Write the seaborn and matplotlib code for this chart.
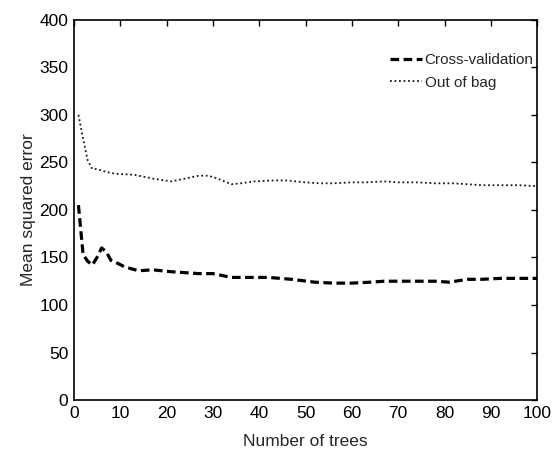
import matplotlib
matplotlib.use("Agg")
import matplotlib.pyplot as plt
import seaborn as sns
import pandas as pd

# Data
cv_trees = [1, 2, 3, 4, 5, 6, 7, 8, 9, 11, 14, 17, 21, 24, 27, 30, 34, 38, 42, 47, 52, 56, 60, 64, 67, 70, 74, 78, 81, 85, 88, 92, 96, 100]
cv_mse = [205, 153, 146, 142, 150, 160, 156, 147, 145, 140, 136, 137, 135, 134, 133, 133, 129, 129, 129, 127, 124, 123, 123, 124, 125, 125, 125, 125, 124, 127, 127, 128, 128, 128]

oob_trees = [1, 2, 3, 4, 5, 7, 9, 13, 17, 21, 23, 27, 29, 31, 34, 36, 39, 43, 46, 50, 53, 56, 60, 63, 67, 70, 74, 78, 82, 85, 88, 92, 96, 100]
oob_mse = [300, 275, 252, 243, 243, 240, 238, 237, 233, 230, 232, 236, 236, 233, 227, 228, 230, 231, 231, 229, 228, 228, 229, 229, 230, 229, 229, 228, 228, 227, 226, 226, 226, 225]

labels = ["Cross-validation", "Out of bag"]

df = pd.concat([
    pd.DataFrame({"trees": cv_trees, "mse": cv_mse, "method": labels[0]}),
    pd.DataFrame({"trees": oob_trees, "mse": oob_mse, "method": labels[1]}),
])

sns.set_style("white")
plt.rcParams["font.family"] = ["Liberation Sans", "DejaVu Sans"]

fig = plt.figure(figsize=(5.55, 4.5), dpi=100)
ax = fig.add_axes([0.133, 0.111, 0.835, 0.845])

sns.lineplot(data=df, x="trees", y="mse", hue="method", style="method",
             palette={labels[0]: "black", labels[1]: "#1a1a1a"},
             dashes={labels[0]: (2.7, 1.4), labels[1]: (1, 1.5)},
             sizes={labels[0]: 2.3, labels[1]: 1.3}, size="method",
             ax=ax, legend=True)

ax.set_xlim(0, 100)
ax.set_ylim(0, 400)
ax.set_xticks(range(0, 101, 10))
ax.set_yticks(range(0, 401, 50))
ax.set_xlabel("Number of trees", fontsize=12.5, labelpad=10)
ax.set_ylabel("Mean squared error", fontsize=12.5, labelpad=2)
ax.tick_params(direction="in", length=4, width=1, top=True, right=True,
               labelsize=12.5, colors="black", pad=4)
for s in ax.spines.values():
    s.set_visible(True)
    s.set_color("black")
    s.set_linewidth(1.2)

leg = ax.legend(loc="upper right", bbox_to_anchor=(0.992, 0.912),
                frameon=False, fontsize=11,
                handlelength=2.1, handletextpad=0.2, borderaxespad=0,
                labelspacing=0.55, borderpad=0)
for h, lw in zip(leg.get_lines(), [2.3, 1.3]):
    h.set_linewidth(lw)

fig.savefig("out.png", dpi=100)
